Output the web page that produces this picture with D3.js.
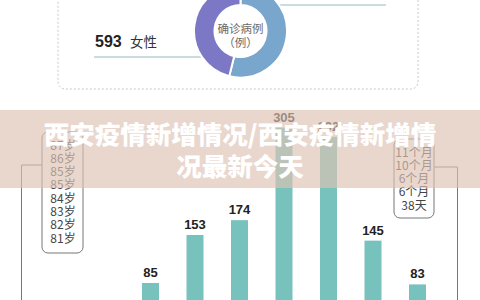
<!DOCTYPE html>
<html><head><meta charset="utf-8">
<script src="https://cdn.jsdelivr.net/npm/d3@7/dist/d3.min.js"></script>
<style>html,body{margin:0;padding:0;background:#fff;overflow:hidden}</style>
</head><body>
<svg id="c" width="480" height="300"></svg>
<script>
// ---- data ----
const genderLabels = ["男性", "女性"];
const genderValues = [693, 593];
const ageGroups = ["0-9岁", "10-19岁", "20-29岁", "30-39岁", "40-49岁", "50-59岁", "60岁以上"];
const ageValues = [85, 153, 174, 305, 292, 145, 83];
const oldestAges = ["87岁", "86岁", "85岁", "85岁", "84岁", "83岁", "82岁", "81岁"];
const youngestAges = ["11个月", "10个月", "6个月", "6个月", "38天"];
const titleLines = ["西安疫情新增情况/西安疫情新增情", "况最新今天"];
const donutCenter = ["确诊病例", "（例）"];

const svg = d3.select("#c");
const sans = "'Liberation Sans', Arial, 'Noto Sans CJK SC', sans-serif";
const cjk = "'Noto Sans CJK SC', sans-serif";

// ---- top panel (donut) ----
svg.append("rect").attr("x", 58).attr("y", -30).attr("width", 360).attr("height", 119)
  .attr("rx", 7).attr("fill", "none").attr("stroke", "#c8c8c8").attr("stroke-dasharray", "2,2");

// leader lines
svg.append("line").attr("x1", 275).attr("x2", 386).attr("y1", 5).attr("y2", 5)
  .attr("stroke", "#c9dde1").attr("stroke-width", 2);
svg.append("line").attr("x1", 94).attr("x2", 202).attr("y1", 57).attr("y2", 57)
  .attr("stroke", "#c9dde1").attr("stroke-width", 2);

const pie = d3.pie().sort(null).value(d => d);
const arc = d3.arc().innerRadius(26).outerRadius(46.5);
const g = svg.append("g").attr("transform", "translate(240.5,31)");
g.selectAll("path").data(pie(genderValues)).join("path")
  .attr("d", arc).attr("fill", (d, i) => i === 0 ? "#79a6cc" : "#7d78c6")
  .attr("stroke", "#fff").attr("stroke-width", 2);
g.selectAll("text").data(donutCenter).join("text")
  .attr("x", 0).attr("y", (d, i) => i === 0 ? 1.5 : 15.5).attr("text-anchor", "middle")
  .attr("font-family", cjk).attr("font-size", 11.5).attr("fill", "#6a6a6a").text(d => d);

// female label
svg.append("text").attr("x", 95).attr("y", 47).attr("font-family", sans).attr("font-weight", "bold")
  .attr("font-size", 16).attr("fill", "#222").text(genderValues[1]);
svg.append("text").attr("x", 130).attr("y", 47).attr("font-family", cjk)
  .attr("font-size", 13.5).attr("fill", "#333").text(genderLabels[1]);
svg.append("text").attr("x", 95).attr("y", -10).attr("font-family", sans).attr("font-weight", "bold")
  .attr("font-size", 16).attr("fill", "#222").text(genderValues[0] + " " + genderLabels[0]);

// ---- bar chart ----
const x = d3.scaleBand().domain(ageGroups).range([128.25, 439.75]).paddingInner(0.618).paddingOuter(0.309);
const y = d3.scaleLinear().domain([0, 350]).range([343, 343 - 350 * 0.706]);
svg.append("g").selectAll("rect").data(ageValues).join("rect")
  .attr("x", (d, i) => x(ageGroups[i])).attr("width", x.bandwidth())
  .attr("y", d => y(d)).attr("height", d => y(0) - y(d)).attr("fill", "#78c2bd");
svg.append("g").selectAll("text").data(ageValues).join("text")
  .attr("x", (d, i) => x(ageGroups[i]) + x.bandwidth() / 2).attr("y", d => y(d) - 6)
  .attr("text-anchor", "middle").attr("font-family", sans).attr("font-weight", "bold")
  .attr("font-size", 13).attr("fill", "#222").text(d => d);
svg.append("g").attr("transform", "translate(0,343)").call(d3.axisBottom(x).tickSize(0));

// left bracket box
svg.append("rect").attr("x", 42).attr("y", 132).attr("width", 41).attr("height", 121)
  .attr("rx", 6).attr("fill", "#fff").attr("stroke", "#777").attr("stroke-width", 1);
svg.append("path").attr("d", "M42,165H21.5V310").attr("fill", "none").attr("stroke", "#777");
svg.append("g").selectAll("text").data(oldestAges).join("text")
  .attr("x", 63).attr("y", (d, i) => 149.5 + i * 13.3).attr("text-anchor", "middle")
  .attr("font-family", cjk).attr("font-size", 12).attr("fill", "#444").text(d => d);

// right bracket box
svg.append("rect").attr("x", 394).attr("y", 139).attr("width", 40).attr("height", 79)
  .attr("rx", 6).attr("fill", "#fff").attr("stroke", "#777").attr("stroke-width", 1);
svg.append("path").attr("d", "M434,167H457.5V310").attr("fill", "none").attr("stroke", "#777");
svg.append("g").selectAll("text").data(youngestAges).join("text")
  .attr("x", 414).attr("y", (d, i) => 156.5 + i * 13.3).attr("text-anchor", "middle")
  .attr("font-family", cjk).attr("font-size", 12).attr("fill", "#444").text(d => d);

// ---- title banner ----
svg.append("rect").attr("x", 0).attr("y", 110).attr("width", 480).attr("height", 78)
  .attr("fill", "rgb(221,194,179)").attr("fill-opacity", 0.66);
svg.append("g").selectAll("text").data(titleLines).join("text")
  .attr("x", 240).attr("y", (d, i) => 144 + i * 32).attr("text-anchor", "middle")
  .attr("font-family", cjk).attr("font-weight", 900).attr("font-size", 25.5)
  .attr("fill", "#fff").text(d => d);
</script>
</body></html>
